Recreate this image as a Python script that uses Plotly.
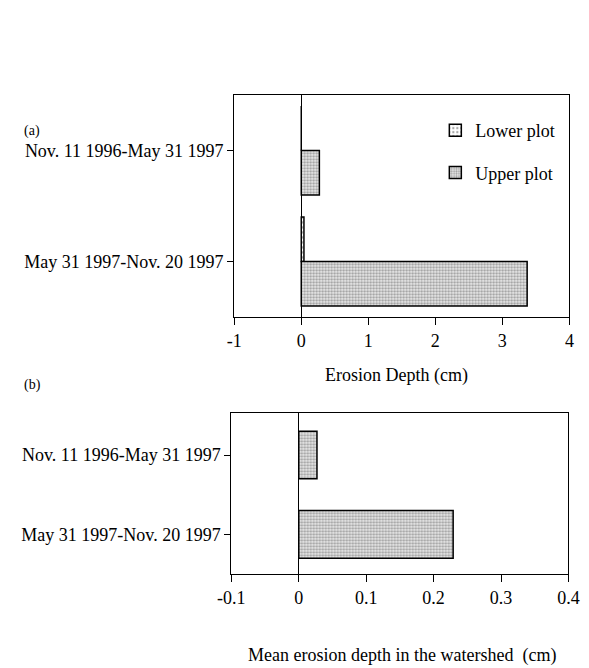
import plotly.graph_objects as go

periods = ["Nov. 11 1996-May 31 1997", "May 31 1997-Nov. 20 1997"]
lower_plot = [0.0, 0.04]
upper_plot = [0.27, 3.37]
watershed_mean = [0.027, 0.229]
ticks_a = [-1, 0, 1, 2, 3, 4]
ticks_a_text = ["-1", "0", "1", "2", "3", "4"]
ticks_b = [-0.1, 0, 0.1, 0.2, 0.3, 0.4]
ticks_b_text = ["-0.1", "0", "0.1", "0.2", "0.3", "0.4"]

W, H = 589, 668
FONT = "Liberation Serif"
FS = 18

def px(x):
    return x / W

def py(y):
    return 1 - y / H

fig = go.Figure()

fig.add_trace(go.Bar(
    y=periods, x=lower_plot, orientation="h", name="Lower plot",
    width=0.4, offset=-0.4, xaxis="x", yaxis="y", legendgroup="a",
    marker=dict(color="white", line=dict(color="black", width=1.5),
                pattern=dict(shape=".", fgcolor="#444", bgcolor="white", size=5, solidity=0.25)),
))
fig.add_trace(go.Bar(
    y=periods, x=upper_plot, orientation="h", name="Upper plot",
    width=0.4, offset=0.0, xaxis="x", yaxis="y", legendgroup="b",
    marker=dict(color="white", line=dict(color="black", width=1.5),
                pattern=dict(shape=".", fgcolor="#555", bgcolor="#e8e8e8", size=3, solidity=0.45)),
))
fig.add_trace(go.Bar(
    y=periods, x=watershed_mean, orientation="h", name="Mean",
    width=0.6, offset=-0.3, xaxis="x2", yaxis="y2", showlegend=False,
    marker=dict(color="white", line=dict(color="black", width=1.5),
                pattern=dict(shape=".", fgcolor="#555", bgcolor="#e8e8e8", size=3, solidity=0.45)),
))

axis_common = dict(showline=True, linecolor="black", linewidth=1.2, mirror=True,
                   showgrid=False, ticks="outside", tickcolor="black",
                   tickfont=dict(family=FONT, size=FS, color="black"))

fig.update_layout(
    width=W, height=H, margin=dict(l=0, r=0, t=0, b=0),
    paper_bgcolor="white", plot_bgcolor="white",
    barmode="overlay",
    font=dict(family=FONT, size=FS, color="black"),
    xaxis=dict(domain=[px(230), px(580)], anchor="y", range=[-1, 4],
               tickvals=ticks_a, ticktext=ticks_a_text, ticklen=7,
               zeroline=True, zerolinecolor="black", zerolinewidth=1.2, **axis_common),
    yaxis=dict(domain=[py(317), py(95)], anchor="x", type="category",
               categoryorder="array", categoryarray=periods,
               range=[1.5, -0.5], ticklen=6, **axis_common),
    xaxis2=dict(domain=[px(227), px(579)], anchor="y2", range=[-0.1, 0.4],
                tickvals=ticks_b, ticktext=ticks_b_text,
                ticklen=7, zeroline=True, zerolinecolor="black", zerolinewidth=1.2, **axis_common),
    yaxis2=dict(domain=[py(574), py(413)], anchor="x2", type="category",
                categoryorder="array", categoryarray=periods,
                range=[1.5, -0.53], ticklen=6, **axis_common),
    legend=dict(x=px(440), y=py(112), xanchor="left", yanchor="top",
                bgcolor="rgba(0,0,0,0)", tracegroupgap=16,
                font=dict(family=FONT, size=FS, color="black")),
    annotations=[
        dict(text="(a)", x=px(8), y=py(131), xref="paper", yref="paper",
             xanchor="left", yanchor="middle", showarrow=False, font=dict(size=14)),
        dict(text="(b)", x=px(8), y=py(385), xref="paper", yref="paper",
             xanchor="left", yanchor="middle", showarrow=False, font=dict(size=14)),
        dict(text="Erosion Depth (cm)", x=px(399), y=py(375), xref="paper", yref="paper",
             xanchor="center", yanchor="middle", showarrow=False, font=dict(size=FS)),
        dict(text="Mean erosion depth in the watershed  (cm)", x=px(405), y=py(655), xref="paper", yref="paper",
             xanchor="center", yanchor="middle", showarrow=False, font=dict(size=FS)),
    ],
)

fig.write_html("out.html", config={"displayModeBar": False},
               post_script="document.body.style.margin='0';document.body.style.overflow='hidden';")
